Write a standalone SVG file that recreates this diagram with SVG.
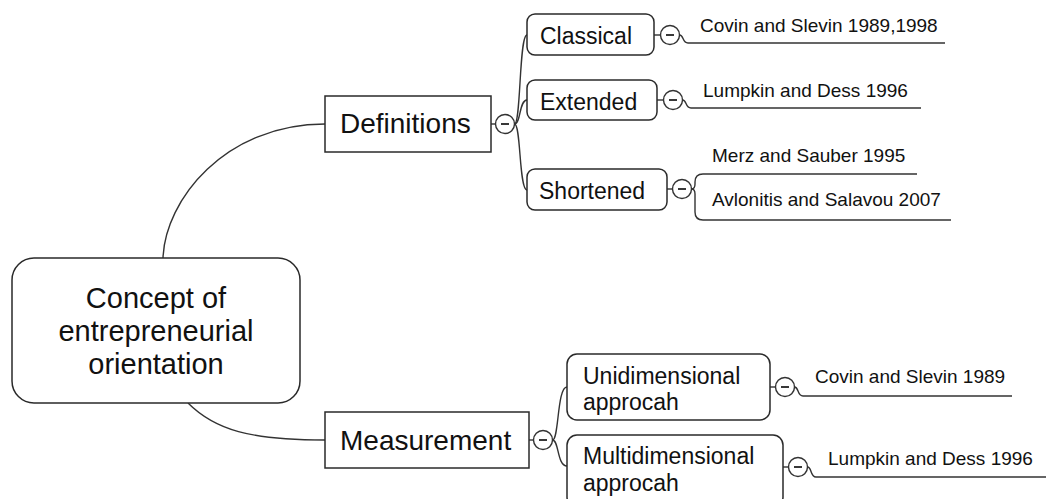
<svg xmlns="http://www.w3.org/2000/svg" width="1050" height="499" viewBox="0 0 1050 499">
<style>
  .box{fill:#fff;stroke:#2a2a2a;stroke-width:1.5}
  .ln{fill:none;stroke:#333;stroke-width:1.4}
  .btn{fill:#fff;stroke:#333;stroke-width:1.4}
  .mn{fill:none;stroke:#222;stroke-width:1.8}
  .t{font-family:"Liberation Sans",Arial,sans-serif;fill:#111}
  .t0{font-size:29px}
  .t1{font-size:28px}
  .t2{font-size:23px}
  .t3{font-size:19px}
</style>
<rect width="1050" height="499" fill="#fff"/>
<g id="connectors">
  <path class="ln" d="M163,258 C165,200 225,124 325,124"/>
  <path class="ln" d="M188,403 C215,430 250,440 325,440"/>
  <path class="ln" d="M491,124 L495.5,124"/>
  <path class="ln" d="M529,440 L533.5,440"/>
  <path class="ln" d="M514.5,124 C521,124 519,35 527,35"/>
  <path class="ln" d="M514.5,124 C521,124 519,100 527,100"/>
  <path class="ln" d="M514.5,124 C521,124 519,190 527,190"/>
  <path class="ln" d="M552.5,440 C559,440 557,387 567,387"/>
  <path class="ln" d="M552.5,440 C559,440 557,466 567,466"/>
  <path class="ln" d="M654,35 L660.5,35"/>
  <path class="ln" d="M657,100 L663.5,100"/>
  <path class="ln" d="M667,189 L672.5,189"/>
  <path class="ln" d="M770,387 L775.5,387"/>
  <path class="ln" d="M783,467 L788.5,467"/>
  <path class="ln" d="M679.5,35 C684,35 682,43 688,43 L945,43"/>
  <path class="ln" d="M682.5,100 C687,100 685,108 691,108 L921,108"/>
  <path class="ln" d="M691.5,189 Q695,189 695,184 L695,182 Q695,174 703,174 L917,174"/>
  <path class="ln" d="M691.5,189 Q695,189 695,194 L695,212 Q695,220 703,220 L951,220"/>
  <path class="ln" d="M794.5,387 C799,387 797,396 803,396 L1012,396"/>
  <path class="ln" d="M807.5,467 C812,467 810,477 816,477 L1046,477"/>
</g>
<g id="root">
  <rect class="box" x="12" y="258" width="288" height="145" rx="22"/>
  <text class="t t0" x="156" y="308" text-anchor="middle">Concept of</text>
  <text class="t t0" x="156" y="341" text-anchor="middle">entrepreneurial</text>
  <text class="t t0" x="156" y="374" text-anchor="middle">orientation</text>
</g>
<g id="definitions">
  <rect class="box" x="325" y="96" width="166" height="56"/>
  <text class="t t1" x="340" y="133">Definitions</text>
  <circle class="btn" cx="505" cy="124" r="9.5"/>
  <path class="mn" d="M501,124 H509"/>
</g>
<g id="classical">
  <rect class="box" x="527" y="14" width="127" height="41" rx="8"/>
  <text class="t t2" x="540" y="44">Classical</text>
  <circle class="btn" cx="670" cy="35" r="9.5"/>
  <path class="mn" d="M666,35 H674"/>
</g>
<g id="extended">
  <rect class="box" x="527" y="80" width="130" height="40" rx="8"/>
  <text class="t t2" x="540" y="110">Extended</text>
  <circle class="btn" cx="673" cy="100" r="9.5"/>
  <path class="mn" d="M669,100 H677"/>
</g>
<g id="shortened">
  <rect class="box" x="527" y="169" width="140" height="41" rx="8"/>
  <text class="t t2" x="539" y="199">Shortened</text>
  <circle class="btn" cx="682" cy="189" r="9.5"/>
  <path class="mn" d="M678,189 H686"/>
</g>
<g id="ref-covin-1989-1998">
  <text class="t t3" x="700" y="31.5">Covin and Slevin 1989,1998</text>
</g>
<g id="ref-lumpkin-1996-a">
  <text class="t t3" x="703" y="97">Lumpkin and Dess 1996</text>
</g>
<g id="ref-merz">
  <text class="t t3" x="712" y="162">Merz and Sauber 1995</text>
</g>
<g id="ref-avlonitis">
  <text class="t t3" x="712" y="206">Avlonitis and Salavou 2007</text>
</g>
<g id="measurement">
  <rect class="box" x="325" y="412" width="204" height="56"/>
  <text class="t t1" x="340" y="450">Measurement</text>
  <circle class="btn" cx="543" cy="440" r="9.5"/>
  <path class="mn" d="M539,440 H547"/>
</g>
<g id="unidimensional">
  <rect class="box" x="567" y="354" width="203" height="66" rx="10"/>
  <text class="t t2" x="583" y="384">Unidimensional</text>
  <text class="t t2" x="583" y="410">approcah</text>
  <circle class="btn" cx="785" cy="387" r="9.5"/>
  <path class="mn" d="M781,387 H789"/>
</g>
<g id="multidimensional">
  <rect class="box" x="567" y="435" width="216" height="72" rx="10"/>
  <text class="t t2" x="583" y="464">Multidimensional</text>
  <text class="t t2" x="583" y="491">approcah</text>
  <circle class="btn" cx="798" cy="467" r="9.5"/>
  <path class="mn" d="M794,467 H802"/>
</g>
<g id="ref-covin-1989">
  <text class="t t3" x="815" y="383">Covin and Slevin 1989</text>
</g>
<g id="ref-lumpkin-1996-b">
  <text class="t t3" x="828" y="465">Lumpkin and Dess 1996</text>
</g>
</svg>
